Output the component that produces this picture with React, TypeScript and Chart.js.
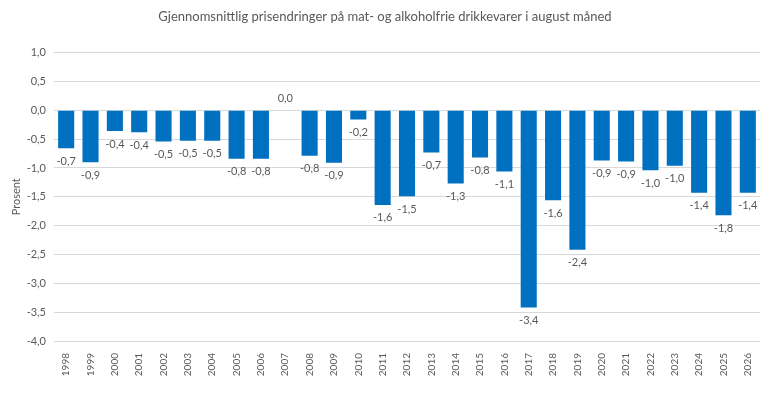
import React, { useEffect, useRef } from "react";
import { Chart, registerables } from "chart.js";

Chart.register(...registerables);

const years = [
  "1998", "1999", "2000", "2001", "2002", "2003", "2004", "2005", "2006", "2007",
  "2008", "2009", "2010", "2011", "2012", "2013", "2014", "2015", "2016", "2017",
  "2018", "2019", "2020", "2021", "2022", "2023", "2024", "2025", "2026",
];

const priceChange = [
  -0.66, -0.9, -0.36, -0.38, -0.54, -0.53, -0.53, -0.84, -0.84, 0,
  -0.79, -0.91, -0.16, -1.64, -1.49, -0.73, -1.27, -0.82, -1.06, -3.42,
  -1.56, -2.42, -0.87, -0.89, -1.04, -0.96, -1.43, -1.82, -1.43,
];

const titleText = "Gjennomsnittlig prisendringer på mat- og alkoholfrie drikkevarer i august måned";
const yAxisTitle = "Prosent";

const FONT = "Lato, 'Open Sans', sans-serif";
const TEXT = "#595959";

const fmt = (v: number) => (Math.round(v * 10) / 10).toFixed(1).replace(".", ",").replace("-0,0", "0,0");

const labelPlugin = {
  id: "barLabels",
  afterDatasetsDraw(chart: any) {
    const ctx = chart.ctx;
    const meta = chart.getDatasetMeta(0);
    ctx.save();
    ctx.font = `11px ${FONT}`;
    ctx.fillStyle = TEXT;
    ctx.textAlign = "center";
    ctx.textBaseline = "middle";
    meta.data.forEach((bar: any, i: number) => {
      const v = chart.data.datasets[0].data[i] as number;
      const y = v < 0 ? bar.y + 13 : bar.y - 12;
      ctx.fillText(fmt(v), bar.x, y);
    });
    ctx.restore();
  },
};

export default function App() {
  const ref = useRef<HTMLCanvasElement>(null);
  useEffect(() => {
    document.body.style.margin = "0";
    const chart = new Chart(ref.current!, {
      type: "bar",
      data: {
        labels: years,
        datasets: [
          {
            data: priceChange,
            backgroundColor: "#0070C0",
            categoryPercentage: 1,
            barPercentage: 0.66,
          },
        ],
      },
      options: {
        responsive: false,
        animation: false,
        layout: { padding: { top: 0, right: 8, left: 10, bottom: 0 } },
        plugins: {
          legend: { display: false },
          tooltip: { enabled: false },
          title: {
            display: true,
            text: titleText,
            color: TEXT,
            font: { family: FONT, size: 13, weight: "normal" },
            padding: { top: 9, bottom: 28 },
          },
        },
        scales: {
          x: {
            grid: { display: false },
            border: { display: false },
            ticks: {
              color: TEXT,
              font: { family: FONT, size: 10 },
              minRotation: 90,
              maxRotation: 90,
              autoSkip: false,
              padding: 4,
            },
            afterFit(scale: any) {
              scale.height = 61;
            },
          },
          y: {
            min: -4,
            max: 1,
            ticks: {
              stepSize: 0.5,
              color: TEXT,
              font: { family: FONT, size: 11 },
              padding: 8,
              callback: (v: any) => Number(v).toFixed(1).replace(".", ","),
            },
            grid: { color: "#d9d9d9", drawTicks: false },
            border: { display: false },
            title: {
              display: true,
              text: yAxisTitle,
              color: TEXT,
              font: { family: FONT, size: 11 },
              padding: 0,
            },
            afterFit(scale: any) {
              scale.width = 44;
            },
          },
        },
      },
      plugins: [labelPlugin],
    });
    return () => chart.destroy();
  }, []);
  return <canvas ref={ref} width={768} height={402} />;
}
